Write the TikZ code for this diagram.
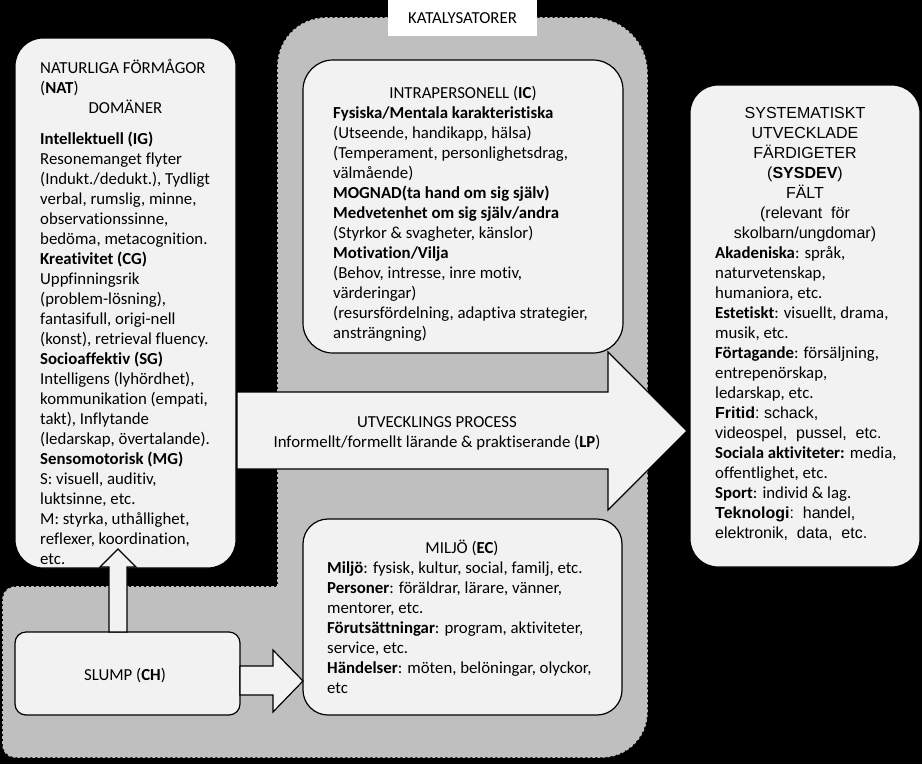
\documentclass[tikz,border=0pt]{standalone}
\usepackage{fontspec}
\setmainfont{Carlito}[Ligatures=CommonOff]
\newfontfamily\arialf{Liberation Sans}
\definecolor{catgrey}{HTML}{BFBFBF}
\definecolor{boxfill}{HTML}{F2F2F2}
\tikzset{
  box/.style={draw=black, line width=1.2pt, fill=boxfill, rectangle, inner sep=0pt},
  blockarrow/.style={draw=black, line width=1.2pt, fill=boxfill, line join=miter},
  txt/.style={inner sep=0pt, align=left, font=\fontsize{16.8}{20}\selectfont},
  ctxt/.style={inner sep=0pt, align=center, font=\fontsize{16.8}{20}\selectfont},
  atxt/.style={inner sep=0pt, align=center, font=\arialf\fontsize{16}{20}\selectfont},
}
\begin{document}
\begin{tikzpicture}[x=1pt,y=-1pt]
\fill[black] (0,0) rectangle (922,764);
\useasboundingbox (0,0) rectangle (922,764);
% catalyst region
\path[fill=catgrey, draw=catgrey, line width=1.6pt, dash pattern=on 3pt off 2pt]
  (278,587) -- (278,66) arc[start angle=180, end angle=270, radius=48]
  -- (592,18) arc[start angle=270, end angle=360, radius=55]
  -- (647,712) arc[start angle=0, end angle=90, radius=45]
  -- (15,757) arc[start angle=90, end angle=180, radius=12]
  -- (3,599) arc[start angle=180, end angle=270, radius=12]
  -- cycle;
\node[fill=white, inner sep=0pt, minimum width=149pt, minimum height=36pt] (kat) at (462.5,18) {};
\node[ctxt, anchor=base] (katt) at (462.5,23) {KATALYSATORER};
% boxes
\node[box, rounded corners=28pt, minimum width=221pt, minimum height=530pt] (nat) at (125.5,303) {};
\node[box, rounded corners=30pt, minimum width=320pt, minimum height=293pt] (ic) at (463,206.5) {};
\node[box, rounded corners=28pt, minimum width=230pt, minimum height=482pt] (sys) at (805,326) {};
\node[box, rounded corners=25pt, minimum width=319pt, minimum height=196pt] (ec) at (462.5,617) {};
\node[box, rounded corners=11pt, minimum width=225pt, minimum height=83pt] (ch) at (127.5,673.5) {};
% block arrows
\draw[blockarrow] (237,392) -- (608,392) -- (608,352) -- (687,431) -- (608,510) -- (608,469) -- (237,469) -- cycle;
\draw[blockarrow] (240,666) -- (273,666) -- (273,650) -- (303,681) -- (273,712) -- (273,695) -- (240,695) -- cycle;
\draw[blockarrow] (109,632) -- (109,567) -- (100,567) -- (118,549) -- (136,567) -- (127,567) -- (127,632) -- cycle;
% NAT text
\node[txt, anchor=north west] (natt) at (40,59) {\strut NATURLIGA FÖRMÅGOR\\(\textbf{NAT})};
\node[ctxt, anchor=base] (dom) at (125.5,113) {DOMÄNER};
\node[txt, anchor=north west] (natd) at (40,130) {\strut\textbf{Intellektuell (IG)}\\
Resonemanget flyter\\
(Indukt./dedukt.), Tydligt\\
verbal, rumslig, minne,\\
observationssinne,\\
bedöma, metacognition.\\
\textbf{Kreativitet (CG)}\\
Uppfinningsrik\\
(problem-lösning),\\
fantasifull, origi-nell\\
(konst), retrieval fluency.\\
\textbf{Socioaffektiv (SG)}\\
Intelligens (lyhördhet),\\
kommunikation (empati,\\
takt), Inflytande\\
(ledarskap, övertalande).\\
\textbf{Sensomotorisk (MG)}\\
S: visuell, auditiv,\\
luktsinne, etc.\\
M: styrka, uthållighet,\\
reflexer, koordination,\\
etc.};
% IC text
\node[ctxt, anchor=base] (ict) at (463,98) {INTRAPERSONELL (\textbf{IC})};
\node[txt, anchor=north west] (icd) at (333,104) {\strut\textbf{Fysiska/Mentala karakteristiska}\\
(Utseende, handikapp, hälsa)\\
(Temperament, personlighetsdrag,\\
välmående)\\
\textbf{MOGNAD(ta hand om sig själv)}\\
\textbf{Medvetenhet om sig själv/andra}\\
(Styrkor \& svagheter, känslor)\\
\textbf{Motivation/Vilja}\\
(Behov, intresse, inre motiv,\\
värderingar)\\
(resursfördelning, adaptiva strategier,\\
ansträngning)};
% LP text
\node[ctxt, anchor=north] (lpt) at (437,413) {\strut UTVECKLINGS PROCESS\\Informellt/formellt lärande \& praktiserande (\textbf{LP})};
% SYSDEV text
\node[atxt, anchor=north] (syst) at (805,104) {\strut SYSTEMATISKT\\UTVECKLADE\\FÄRDIGETER\\(\textbf{SYSDEV})\\FÄLT\\(relevant\ \ för\\skolbarn/ungdomar)};
\node[txt, anchor=north west] (sysd) at (715,244) {\strut\textbf{Akadeniska}: språk,\\
naturvetenskap,\\
humaniora, etc.\\
\textbf{Estetiskt}: visuellt, drama,\\
musik, etc.\\
\textbf{Förtagande}: försäljning,\\
entrepenörskap,\\
ledarskap, etc.\\
{\arialf\fontsize{16}{20}\selectfont\textbf{Fritid}:\ schack,}\\
{\arialf\fontsize{16}{20}\selectfont videospel,\ \ pussel,\ \ etc.}\\
\textbf{Sociala aktiviteter:} media,\\
offentlighet, etc.\\
\textbf{Sport}: individ \& lag.\\
{\arialf\fontsize{16}{20}\selectfont\textbf{Teknologi}:\ \ handel,}\\
{\arialf\fontsize{16}{20}\selectfont elektronik,\ \ data,\ \ etc.}};
% EC text
\node[ctxt, anchor=base] (ect) at (462,553) {MILJÖ (\textbf{EC})};
\node[txt, anchor=north west] (ecd) at (327,559) {\strut\textbf{Miljö}: fysisk, kultur, social, familj, etc.\\
\textbf{Personer}: föräldrar, lärare, vänner,\\
mentorer, etc.\\
\textbf{Förutsättningar}: program, aktiviteter,\\
service, etc.\\
\textbf{Händelser}: möten, belöningar, olyckor,\\
etc};
% CH text
\node[ctxt, anchor=base] (cht) at (125,680) {SLUMP (\textbf{CH})};
\end{tikzpicture}
\end{document}
